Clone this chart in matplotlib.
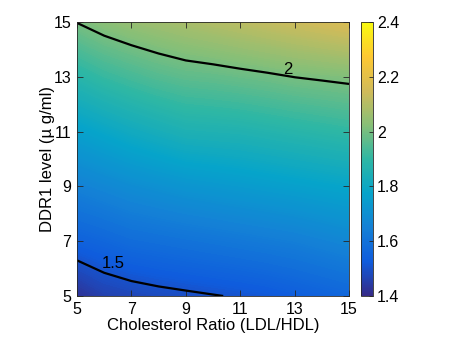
import numpy as np
import matplotlib
matplotlib.use("Agg")
import matplotlib.pyplot as plt
from matplotlib.colors import LinearSegmentedColormap, Normalize
from matplotlib.cm import ScalarMappable

# grid of the surface
x_vals = [5, 6, 7, 8, 9, 10, 11, 12, 13, 14, 15]   # Cholesterol Ratio
y_vals = [5, 7, 9, 11, 13, 15]                      # DDR1 level
# rows correspond to y_vals, columns to x_vals
z_y5 = [1.42, 1.456, 1.470, 1.481, 1.489, 1.497, 1.505, 1.515, 1.53, 1.545, 1.56]
z_y7 = [1.543, 1.56, 1.58, 1.59, 1.60, 1.61, 1.62, 1.63, 1.64, 1.655, 1.67]
z_y9 = [1.65, 1.67, 1.69, 1.705, 1.72, 1.73, 1.74, 1.75, 1.76, 1.77, 1.78]
z_y11 = [1.76, 1.785, 1.81, 1.83, 1.85, 1.855, 1.86, 1.87, 1.88, 1.89, 1.90]
z_y13 = [1.88, 1.91, 1.932, 1.952, 1.966, 1.972, 1.981, 1.990, 2.001, 2.008, 2.015]
z_y15 = [2.002, 2.03, 2.05, 2.065, 2.08, 2.095, 2.11, 2.125, 2.14, 2.155, 2.17]

contour_levels = [1.5, 2.0]
label_texts = ["1.5", "2"]
label_pos = [(6.35, 6.2), (12.75, 13.25)]
cbar_ticks = [1.4, 1.6, 1.8, 2.0, 2.2, 2.4]
cbar_labels = ["1.4", "1.6", "1.8", "2", "2.2", "2.4"]
x_ticks = [5, 7, 9, 11, 13, 15]
y_ticks = [5, 7, 9, 11, 13, 15]

parula = LinearSegmentedColormap.from_list(
    "parula",
    ['#352a87', '#0f5cdd', '#1481d6', '#06a4ca', '#2eb7a4',
     '#87bf77', '#d1bb59', '#fec832', '#f9fb0e'])

plt.rcParams['font.family'] = ['Liberation Sans', 'DejaVu Sans']
plt.rcParams['font.size'] = 11

fig = plt.figure(figsize=(4.77, 3.49), dpi=100)
ax = fig.add_axes([0.1614, 0.1519, 0.5703, 0.7851])
cax = fig.add_axes([0.757, 0.1519, 0.025, 0.7851])

X, Y = np.meshgrid(x_vals, y_vals)
Z = np.array([z_y5, z_y7, z_y9, z_y11, z_y13, z_y15])
norm = Normalize(1.4, 2.4)
cf = ax.contourf(X, Y, Z, levels=np.linspace(1.4, 2.4, 201), cmap=parula,
                 norm=norm, antialiased=False)
cs = ax.contour(X, Y, Z, levels=contour_levels, colors='black', linewidths=1.6)
for t, (px, py) in zip(label_texts, label_pos):
    ax.text(px, py, t, ha='center', va='center', fontsize=12)

ax.set_xlim(5, 15)
ax.set_ylim(5, 15)
ax.set_xticks(x_ticks)
ax.set_yticks(y_ticks)
ax.tick_params(direction='in', top=True, right=True, length=4, width=0.6,
               colors='#262626', labelcolor='black', labelsize=11.5, pad=4)
for s in ax.spines.values():
    s.set_color('#262626')
    s.set_linewidth(0.6)
ax.set_xlabel('Cholesterol Ratio (LDL/HDL)', fontsize=12, labelpad=1)
ax.set_ylabel('DDR1 level (µ g/ml)', fontsize=12, labelpad=-1)

sm = ScalarMappable(norm=norm, cmap=parula)
cb = fig.colorbar(sm, cax=cax, ticks=cbar_ticks)
cb.ax.set_yticklabels(cbar_labels)
cb.ax.tick_params(direction='in', length=3, width=0.6, colors='#262626',
                  labelcolor='black', labelsize=11.5, pad=3)
cb.outline.set_edgecolor('#262626')
cb.outline.set_linewidth(0.6)

fig.savefig('out.png', dpi=100)
